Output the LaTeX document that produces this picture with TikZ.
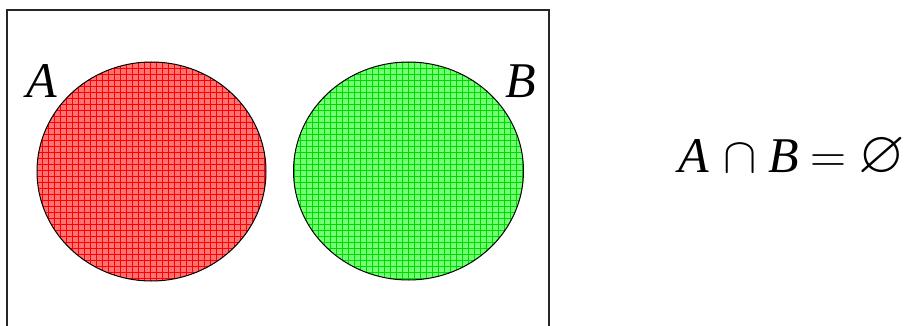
\RequirePackage{fix-cm}
\documentclass[tikz,border=0pt]{standalone}
\usepackage{amssymb}
\usepackage{graphicx}
\usepackage{fontspec}
\setmainfont{Liberation Serif}
\usetikzlibrary{positioning}

\tikzset{
  setlabel/.style={font=\fontsize{50}{50}\selectfont\itshape, inner sep=0pt},
  eqlabel/.style={font=\fontsize{50}{50}\selectfont, inner sep=0pt, anchor=base}
}

\begin{document}
\begin{tikzpicture}[x=1pt, y=-1pt]
  \useasboundingbox (0,0) rectangle (910,326);
  % universe, open at the bottom
  \draw[line width=1.2pt, black!85] (7,326) -- (7,10) -- (549,10) -- (549,326);
  % set A
  \begin{scope}
    \clip (151.5,171.5) ellipse [x radius=114.5, y radius=109.5];
    \fill[red!55!white] (30,55) rectangle (275,290);
    \foreach \x in {30,36,...,275} {
      \draw[red, line width=0.55pt] (\x,55) -- (\x,290);
    }
    \foreach \y in {56,62,...,290} {
      \draw[red, line width=0.55pt] (30,\y) -- (275,\y);
    }
  \end{scope}
  \draw[line width=1pt] (151.5,171.5) ellipse [x radius=114.5, y radius=109.5];
  % set B
  \begin{scope}
    \clip (408.5,171) ellipse [x radius=115, y radius=109];
    \fill[green!55!white] (285,55) rectangle (530,290);
    \foreach \x in {288,294,...,530} {
      \draw[green!85!black, line width=0.55pt] (\x,55) -- (\x,290);
    }
    \foreach \y in {56,62,...,290} {
      \draw[green!85!black, line width=0.55pt] (285,\y) -- (530,\y);
    }
  \end{scope}
  \draw[line width=1pt] (408.5,171) ellipse [x radius=115, y radius=109];
  % labels
  \node[setlabel] (labA) at (42,81) {A};
  \node[setlabel] (labB) at (521,81) {B};
  \node[eqlabel] (eq) at (792,172) {\textit{A}\hspace{14pt}$\cap$\hspace{12pt}\textit{B}\hspace{12pt}$=$\hspace{12pt}\scalebox{1.2}{$\varnothing$}};
\end{tikzpicture}
\end{document}
